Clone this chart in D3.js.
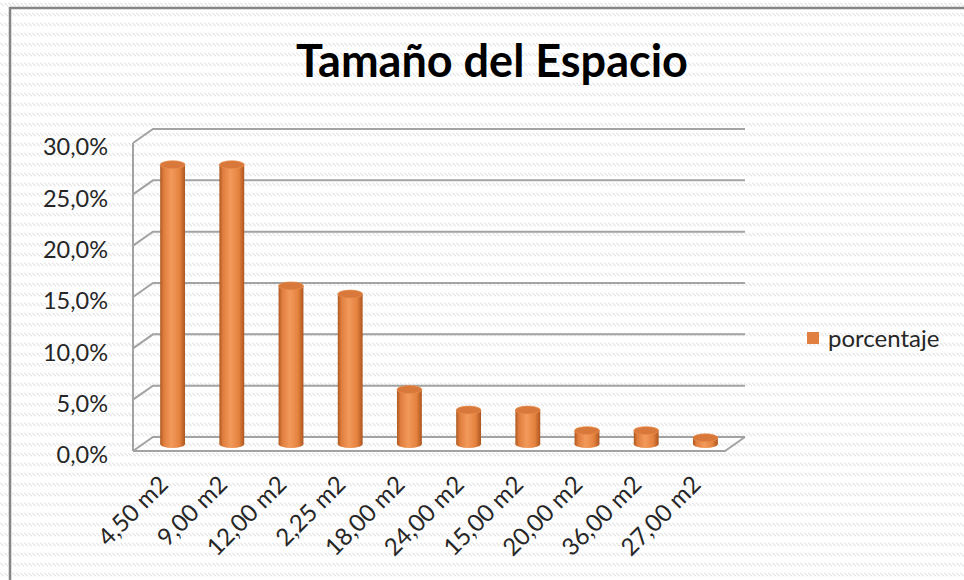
<!DOCTYPE html>
<html>
<head>
<meta charset="utf-8">
<script src="https://cdn.jsdelivr.net/npm/d3@7"></script>
<style>
  body { margin: 0; background: #fff; }
  text { font-family: Lato, "Noto Sans", sans-serif; fill: #262626; }
</style>
</head>
<body>
<div id="chart"></div>
<script>
// chart data
var title = "Tamaño del Espacio";
var seriesName = "porcentaje";
var categories = ["4,50 m2", "9,00 m2", "12,00 m2", "2,25 m2", "18,00 m2", "24,00 m2", "15,00 m2", "20,00 m2", "36,00 m2", "27,00 m2"];
var values = [27.2, 27.2, 15.4, 14.6, 5.3, 3.3, 3.3, 1.3, 1.3, 0.6];
var yTicks = [0, 5, 10, 15, 20, 25, 30];

var W = 964, H = 580;
// 3d depth: back wall is shifted right/up from the front plane
var depthX = 20, depthY = -14;
var front = { left: 133, right: 725, bottom: 451, top: 143 };

var svg = d3.select("#chart").append("svg")
  .attr("width", W)
  .attr("height", H);

var defs = svg.append("defs");

// excel style hatch background
var pat = defs.append("pattern")
  .attr("id", "hatch")
  .attr("patternUnits", "userSpaceOnUse")
  .attr("width", 4)
  .attr("height", 10);
pat.append("path")
  .attr("d", "M0,2.5 L4,6.5")
  .attr("stroke", "#d6d6d6")
  .attr("stroke-width", 1);

var grad = defs.append("linearGradient")
  .attr("id", "cyl")
  .attr("x1", "0%").attr("x2", "100%")
  .attr("y1", "0%").attr("y2", "0%");
[["0%", "#b05a22"], ["15%", "#e07e3e"], ["45%", "#f29a5b"], ["78%", "#e5823f"], ["100%", "#ad5620"]]
  .forEach(function(s) {
    grad.append("stop").attr("offset", s[0]).attr("stop-color", s[1]);
  });

svg.append("rect").attr("width", W).attr("height", H).attr("fill", "#fff");
svg.append("rect").attr("width", W).attr("height", H).attr("fill", "url(#hatch)");

// outer chart frame
svg.append("rect")
  .attr("x", 10).attr("y", 8)
  .attr("width", 1000).attr("height", 700)
  .attr("fill", "none")
  .attr("stroke", "#858585")
  .attr("stroke-width", 2.5);

// scales
var yFront = d3.scaleLinear().domain([0, 30]).range([front.bottom, front.top]);
var yBack = d3.scaleLinear().domain([0, 30]).range([front.bottom + depthY, front.top + depthY]);
var yMid = d3.scaleLinear().domain([0, 30]).range([front.bottom + depthY / 2, front.top + depthY / 2]);

var x = d3.scaleBand()
  .domain(categories)
  .range([front.left + depthX / 2, front.right + depthX / 2]);

var wallColor = "#a3a3a3";
var walls = svg.append("g")
  .attr("fill", "none")
  .attr("stroke", wallColor)
  .attr("stroke-width", 2);

// back wall gridlines + left wall diagonals
walls.selectAll(".grid")
  .data(yTicks)
  .enter().append("path")
  .attr("class", "grid")
  .attr("d", function(d) {
    return "M" + front.left + "," + yFront(d) +
      "L" + (front.left + depthX) + "," + yBack(d) +
      "L" + (front.right + depthX) + "," + yBack(d);
  });

// left wall front edge
walls.append("line")
  .attr("x1", front.left).attr("x2", front.left)
  .attr("y1", yFront(30)).attr("y2", yFront(0));

// floor front edge
walls.append("path")
  .attr("d", "M" + front.left + "," + yFront(0) +
    "L" + front.right + "," + yFront(0) +
    "L" + (front.right + depthX) + "," + yBack(0));

// y axis labels
var yAxis = d3.axisLeft(yFront)
  .tickValues(yTicks)
  .tickSize(0)
  .tickPadding(25)
  .tickFormat(function(d) { return d.toFixed(1).replace(".", ",") + "%"; });

var yg = svg.append("g")
  .attr("transform", "translate(" + front.left + ",0)")
  .call(yAxis);
yg.select(".domain").remove();
yg.selectAll("text")
  .attr("font-family", "Lato, sans-serif")
  .attr("font-size", 23.5)
  .attr("fill", "#262626")
  .attr("dy", "0.5em");

// cylinders
var barW = x.bandwidth() * 0.42;
var ry = 4;
var bars = svg.append("g").selectAll(".bar")
  .data(values)
  .enter().append("g")
  .attr("class", "bar");

bars.append("ellipse")
  .attr("cx", function(d, i) { return x(categories[i]) + x.bandwidth() / 2; })
  .attr("cy", yMid(0))
  .attr("rx", barW / 2)
  .attr("ry", ry)
  .attr("fill", "url(#cyl)");

bars.append("rect")
  .attr("x", function(d, i) { return x(categories[i]) + x.bandwidth() / 2 - barW / 2; })
  .attr("y", function(d) { return yMid(d); })
  .attr("width", barW)
  .attr("height", function(d) { return yMid(0) - yMid(d); })
  .attr("fill", "url(#cyl)");

bars.append("ellipse")
  .attr("cx", function(d, i) { return x(categories[i]) + x.bandwidth() / 2; })
  .attr("cy", function(d) { return yMid(d); })
  .attr("rx", barW / 2)
  .attr("ry", ry)
  .attr("fill", "#d8783a")
  .attr("stroke", "#e98f4f")
  .attr("stroke-width", 0.7);

// category labels, rotated
svg.append("g").selectAll(".xlabel")
  .data(categories)
  .enter().append("text")
  .attr("class", "xlabel")
  .attr("text-anchor", "end")
  .attr("font-size", 24)
  .attr("transform", function(d) {
    return "translate(" + (x(d) + x.bandwidth() / 2 - 3) + ",486) rotate(-45)";
  })
  .text(function(d) { return d; });

// title
svg.append("text")
  .attr("x", 492)
  .attr("y", 77)
  .attr("text-anchor", "middle")
  .attr("font-size", 45)
  .attr("font-weight", "bold")
  .style("fill", "#000")
  .text(title);

// legend
var legend = svg.append("g").attr("transform", "translate(807,332)");
legend.append("rect")
  .attr("width", 12).attr("height", 12)
  .attr("fill", "#e07f40");
legend.append("text")
  .attr("x", 21)
  .attr("y", 15)
  .attr("font-size", 24)
  .text(seriesName);
</script>
</body>
</html>
